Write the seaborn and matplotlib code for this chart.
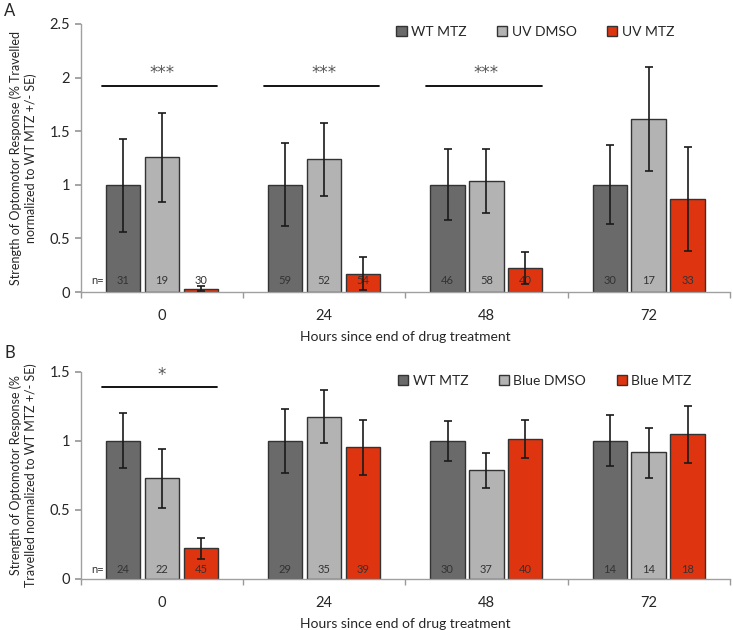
import pandas as pd
import matplotlib.pyplot as plt
import seaborn as sns

# Hours since end of drug treatment
hours = ["0", "24", "48", "72"]

# Panel A (UV)
groups_a = ["WT MTZ", "UV DMSO", "UV MTZ"]
mean_a = {
    "WT MTZ":  [1.00, 1.00, 1.00, 1.00],
    "UV DMSO": [1.255, 1.236, 1.034, 1.616],
    "UV MTZ":  [0.03, 0.168, 0.224, 0.869],
}
upper_a = {
    "WT MTZ":  [1.43, 1.385, 1.33, 1.37],
    "UV DMSO": [1.667, 1.575, 1.33, 2.10],
    "UV MTZ":  [0.056, 0.327, 0.374, 1.348],
}
lower_a = {
    "WT MTZ":  [0.564, 0.62, 0.676, 0.638],
    "UV DMSO": [0.835, 0.897, 0.741, 1.127],
    "UV MTZ":  [0.005, 0.016, 0.072, 0.386],
}
n_a = {
    "WT MTZ":  [31, 59, 46, 30],
    "UV DMSO": [19, 52, 58, 17],
    "UV MTZ":  [30, 54, 40, 33],
}
sig_a = ["***", "***", "***", ""]

# Panel B (Blue)
groups_b = ["WT MTZ", "Blue DMSO", "Blue MTZ"]
mean_b = {
    "WT MTZ":    [1.00, 1.00, 1.00, 1.00],
    "Blue DMSO": [0.729, 1.173, 0.786, 0.916],
    "Blue MTZ":  [0.221, 0.952, 1.012, 1.046],
}
upper_b = {
    "WT MTZ":    [1.202, 1.228, 1.144, 1.185],
    "Blue DMSO": [0.94, 1.365, 0.913, 1.096],
    "Blue MTZ":  [0.293, 1.149, 1.149, 1.252],
}
lower_b = {
    "WT MTZ":    [0.803, 0.769, 0.856, 0.815],
    "Blue DMSO": [0.512, 0.981, 0.661, 0.733],
    "Blue MTZ":  [0.146, 0.752, 0.873, 0.841],
}
n_b = {
    "WT MTZ":    [24, 29, 30, 14],
    "Blue DMSO": [22, 35, 37, 14],
    "Blue MTZ":  [45, 39, 40, 18],
}
sig_b = ["*", "", "", ""]

colors = ["#6a6a6a", "#b3b3b3", "#de3410"]

sns.set_theme(style="white")
plt.rcParams["font.family"] = ["Lato", "DejaVu Sans"]


def draw_panel(ax, groups, mean, upper, lower, nums, sig, ylim, yticks,
               ylabel, sig_y, n_off, legend_pos):
    rows = []
    for g in groups:
        for i, h in enumerate(hours):
            rows.append({"hours": h, "group": g, "value": mean[g][i]})
    df = pd.DataFrame(rows)

    sns.barplot(data=df, x="hours", y="value", hue="group", order=hours,
                hue_order=groups, palette=colors, saturation=1, width=0.72,
                gap=0.12, edgecolor="#333333", linewidth=1.0, errorbar=None,
                ax=ax)

    # error bars and n labels
    for cont, g in zip(ax.containers, groups):
        for i, bar in enumerate(cont):
            xc = bar.get_x() + bar.get_width() / 2
            m = mean[g][i]
            ax.errorbar(xc, m, yerr=[[m - lower[g][i]], [upper[g][i] - m]],
                        fmt="none", ecolor="#1a1a1a", elinewidth=1.2,
                        capsize=3, capthick=1.2, zorder=5)
            ax.annotate(str(nums[g][i]), (xc, 0), xytext=(0, n_off),
                        textcoords="offset points", ha="center", va="center",
                        fontsize=8, color="#333333")
    first = ax.containers[0][0]
    ax.annotate("n=", (first.get_x() - 0.015, 0), xytext=(0, n_off),
                textcoords="offset points", ha="right", va="center",
                fontsize=8, color="#333333")

    # significance lines
    for i, s in enumerate(sig):
        if s:
            ax.plot([i - 0.37, i + 0.34], [sig_y, sig_y], color="black", lw=1.3)
            ax.text(i, sig_y + (ylim[1] * 0.014), s, ha="center", va="bottom",
                    fontsize=12, color="#555555", family="DejaVu Sans")

    ax.set_xlim(-0.5, 3.5)
    ax.set_ylim(*ylim)
    ax.set_yticks(yticks)
    ax.set_yticklabels([("%g" % t) for t in yticks])
    ax.set_xticks([-0.5, 0.5, 1.5, 2.5, 3.5], minor=True)
    ax.tick_params(axis="x", which="major", length=0, labelsize=10.5, pad=12)
    ax.tick_params(axis="x", which="minor", length=4, color="#999999",
                   direction="out", bottom=True)
    ax.tick_params(axis="y", length=4, color="#999999", direction="out",
                   left=True, labelsize=10.5, pad=4)
    for side in ["top", "right"]:
        ax.spines[side].set_visible(False)
    for side in ["left", "bottom"]:
        ax.spines[side].set_color("#a0a0a0")
        ax.spines[side].set_linewidth(1.0)

    ax.set_xlabel("Hours since end of drug treatment", fontsize=10, labelpad=6)
    ax.set_ylabel(ylabel, fontsize=9, labelpad=9)

    sns.move_legend(ax, "center", bbox_to_anchor=legend_pos, ncol=3,
                    frameon=False, title=None, fontsize=10,
                    handlelength=0.75, handleheight=0.75, handletextpad=0.3,
                    columnspacing=2.2)


fig = plt.figure(figsize=(7.33, 6.3), dpi=100)
ax_a = fig.add_axes([0.1105, 0.5365, 0.885, 0.4255])
ax_b = fig.add_axes([0.1105, 0.081, 0.885, 0.329])

draw_panel(ax_a, groups_a, mean_a, upper_a, lower_a, n_a, sig_a,
           (0, 2.5), [0, 0.5, 1, 1.5, 2, 2.5],
           "Strength of Optomotor Response (% Travelled\nnormalized to WT MTZ +/- SE)",
           1.92, 8.2, (0.70, 0.97))
draw_panel(ax_b, groups_b, mean_b, upper_b, lower_b, n_b, sig_b,
           (0, 1.5), [0, 0.5, 1, 1.5],
           "Strength of Optomotor Response (%\nTravelled normalized to WT MTZ +/- SE)",
           1.392, 7.0, (0.715, 0.957))

fig.text(0.006, 0.982, "A", fontsize=12, va="center", ha="left")
fig.text(0.006, 0.44, "B", fontsize=12, va="center", ha="left")

fig.savefig("out.png", dpi=100)
